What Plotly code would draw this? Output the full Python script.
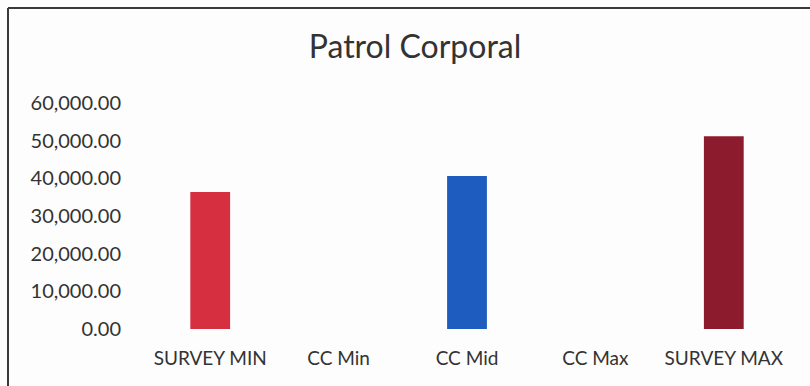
import plotly.graph_objects as go

# Salary range comparison for one position
categories = ["SURVEY MIN", "CC Min", "CC Mid", "CC Max", "SURVEY MAX"]
values = [36400, None, 40600, None, 51200]
bar_colors = ["#d62f40", "#d62f40", "#1f5cbf", "#1f5cbf", "#8c1c2d"]

y_ticks = [0, 10000, 20000, 30000, 40000, 50000, 60000]
y_tick_labels = [f"{v:,.2f}" for v in y_ticks]

W, H = 810, 386
L, R, T, B = 146, 22, 103, 57
pw, ph = W - L - R, H - T - B


def px_to_paper(x, y):
    return (x - L) / pw, (H - B - y) / ph


fig = go.Figure(
    go.Bar(
        x=categories,
        y=values,
        marker=dict(color=bar_colors, line=dict(width=0)),
        hoverinfo="x+y",
    )
)

font = "Lato, 'Open Sans', sans-serif"
fig.update_layout(
    width=W,
    height=H,
    margin=dict(l=L, r=R, t=T, b=B),
    paper_bgcolor="#fdfdfd",
    plot_bgcolor="#fdfdfd",
    bargap=0.69,
    showlegend=False,
    font=dict(family=font, size=18, color="#333333"),
    title=dict(
        text="Patrol Corporal",
        x=415 / W,
        xanchor="center",
        y=1 - 47 / H,
        yanchor="middle",
        font=dict(family=font, size=32, color="#333333"),
    ),
    xaxis=dict(
        showline=False,
        showgrid=False,
        ticks="",
        ticklabelstandoff=16,
        tickfont=dict(size=19),
        fixedrange=True,
    ),
    yaxis=dict(
        range=[0, 60000],
        tickvals=y_ticks,
        ticktext=y_tick_labels,
        showgrid=False,
        zeroline=False,
        showline=False,
        ticks="",
        ticklabelstandoff=24,
        tickfont=dict(size=20),
        fixedrange=True,
    ),
)

# Frame lines along the top and left of the chart area
x0, y0 = px_to_paper(8, 8)
x1, _ = px_to_paper(W + 5, 8)
_, y1 = px_to_paper(8, H + 5)
frame = dict(color="#3a3a3a", width=2)
fig.add_shape(type="line", xref="paper", yref="paper", x0=x0, y0=y0, x1=x1, y1=y0, line=frame)
fig.add_shape(type="line", xref="paper", yref="paper", x0=x0, y0=y0, x1=x0, y1=y1, line=frame)

fig.write_html("out.html")
